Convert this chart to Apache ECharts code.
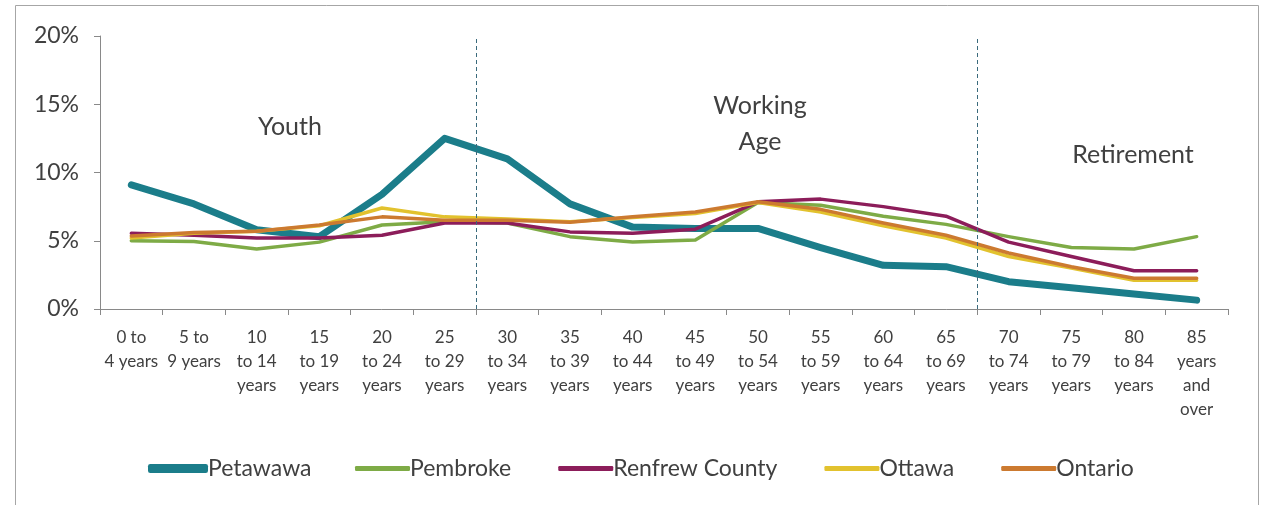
<!DOCTYPE html>
<html><head><meta charset="utf-8">
<script src="https://cdn.jsdelivr.net/npm/echarts@6/dist/echarts.min.js"></script>
<style>html,body{margin:0;padding:0;background:#fff}#c{width:1271px;height:505px}</style>
</head><body><div id="c"></div>
<script>
const categories = ['0 to 4 years','5 to 9 years','10 to 14 years','15 to 19 years','20 to 24 years','25 to 29 years','30 to 34 years','35 to 39 years','40 to 44 years','45 to 49 years','50 to 54 years','55 to 59 years','60 to 64 years','65 to 69 years','70 to 74 years','75 to 79 years','80 to 84 years','85 years and over'];
const tickLabels = ['0 to\n4 years','5 to\n9 years','10\nto 14\nyears','15\nto 19\nyears','20\nto 24\nyears','25\nto 29\nyears','30\nto 34\nyears','35\nto 39\nyears','40\nto 44\nyears','45\nto 49\nyears','50\nto 54\nyears','55\nto 59\nyears','60\nto 64\nyears','65\nto 69\nyears','70\nto 74\nyears','75\nto 79\nyears','80\nto 84\nyears','85\nyears\nand\nover'];
const petawawa = [9.1, 7.7, 5.8, 5.3, 8.4, 12.5, 11.0, 7.7, 6.0, 5.9, 5.9, 4.5, 3.2, 3.1, 2.0, 1.55, 1.1, 0.65];
const pembroke = [5.0, 4.95, 4.4, 4.9, 6.15, 6.4, 6.3, 5.3, 4.9, 5.05, 7.8, 7.6, 6.8, 6.2, 5.3, 4.5, 4.4, 5.3];
const renfrew = [5.55, 5.4, 5.2, 5.2, 5.4, 6.3, 6.3, 5.65, 5.55, 5.85, 7.85, 8.05, 7.5, 6.8, 4.9, 3.85, 2.8, 2.8];
const ottawa = [5.2, 5.55, 5.7, 6.1, 7.4, 6.75, 6.6, 6.4, 6.7, 7.0, 7.8, 7.1, 6.1, 5.2, 3.85, 3.0, 2.1, 2.1];
const ontario = [5.35, 5.6, 5.7, 6.15, 6.75, 6.5, 6.5, 6.35, 6.75, 7.1, 7.85, 7.3, 6.3, 5.4, 4.1, 3.1, 2.25, 2.25];
const seriesNames = ['Petawawa','Pembroke','Renfrew County','Ottawa','Ontario'];
const dividers = [6, 14];
const annotations = ['Youth', 'Working\nAge', 'Retirement'];

const FONT = 'Lato';
const TXT = '#404040';
const colors = ['#1b7d8a', '#7eab46', '#8c1d5a', '#e2c22e', '#cc7a30'];
const widths = [7, 3.5, 3.5, 3.5, 3.5];
const values = [petawawa, pembroke, renfrew, ottawa, ontario];

const chart = echarts.init(document.getElementById('c'));
const series = seriesNames.map((n, i) => ({
  name: n, type: 'line', data: values[i], symbol: 'none', smooth: false,
  lineStyle: { color: colors[i], width: widths[i], cap: 'round', join: 'round' },
  itemStyle: { color: colors[i] }
}));
series.push({
  name: 'dividers', type: 'line', xAxisIndex: 1, data: [], silent: true,
  markLine: {
    silent: true, symbol: 'none', label: { show: false },
    lineStyle: { type: [4, 3], color: '#3a6a7c', width: 1 },
    data: dividers.map(d => ({ xAxis: d }))
  }
});

chart.setOption({
  animation: false,
  backgroundColor: '#fff',
  grid: { left: 100, right: 43, top: 36, bottom: 196 },
  xAxis: [{
    type: 'category', data: categories, boundaryGap: true,
    axisLine: { lineStyle: { color: '#898989', width: 1 } },
    axisTick: { show: true, interval: 0, length: 6, lineStyle: { color: '#898989' } },
    axisLabel: { interval: 0, formatter: (v, i) => tickLabels[i], color: TXT, fontFamily: FONT, fontSize: 17, lineHeight: 24, margin: 17 },
    splitLine: { show: false }
  }, {
    type: 'value', min: 0, max: 18, show: false
  }],
  yAxis: {
    type: 'value', min: 0, max: 20, interval: 5,
    axisLine: { show: true, lineStyle: { color: '#898989', width: 1 } },
    axisTick: { show: true, length: 6, lineStyle: { color: '#898989' } },
    axisLabel: { formatter: v => v + '%', color: TXT, fontFamily: FONT, fontSize: 23, margin: 21 },
    splitLine: { show: false }
  },
  legend: [{
    data: ['Petawawa'], left: 143, top: 452, itemWidth: 60, itemHeight: 9, icon: 'roundRect',
    textStyle: { color: TXT, fontFamily: FONT, fontSize: 23, padding: [0, 0, 0, -5] }
  }, {
    data: seriesNames.slice(1), left: 350, top: 452, itemWidth: 55, itemHeight: 5, itemGap: 47, icon: 'roundRect',
    textStyle: { color: TXT, fontFamily: FONT, fontSize: 23, padding: [0, 0, 0, -5] }
  }],
  graphic: [
    { type: 'rect', shape: { x: 15.5, y: 5.5, width: 1243, height: 520 }, style: { fill: 'none', stroke: '#a6a6a6', lineWidth: 1 }, z: -1, silent: true },
    { type: 'text', x: 290, y: 127, style: { text: annotations[0], align: 'center', verticalAlign: 'middle', fill: TXT, font: '25px Lato' } },
    { type: 'text', x: 760, y: 124, style: { text: annotations[1], align: 'center', verticalAlign: 'middle', fill: TXT, font: '25px Lato', lineHeight: 36 } },
    { type: 'text', x: 1133, y: 155, style: { text: annotations[2], align: 'center', verticalAlign: 'middle', fill: TXT, font: '25px Lato' } }
  ],
  series: series
});
</script></body></html>
